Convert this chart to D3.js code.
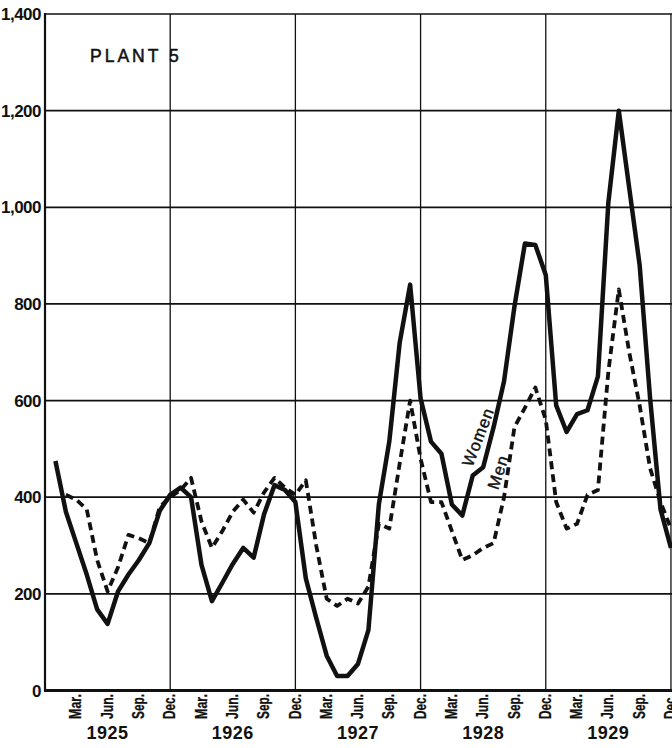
<!DOCTYPE html>
<html>
<head>
<meta charset="utf-8">
<script src="https://cdn.jsdelivr.net/npm/d3@7"></script>
<style>
  html, body { margin: 0; padding: 0; background: #fff; }
  svg { display: block; }
  text { font-family: "Liberation Sans", Arial, sans-serif; fill: #111; }
</style>
</head>
<body>
<svg id="chart" width="672" height="748"></svg>
<script>
// ---- Data (monthly, Jan 1925 .. Dec 1929) ----
const years = ["1925", "1926", "1927", "1928", "1929"];
const monthTickLabels = ["Mar.", "Jun.", "Sep.", "Dec."];
const yTicks = [0, 200, 400, 600, 800, 1000, 1200, 1400];

const women = [
  475, 370, 305, 240, 168, 138, 205, 240, 270, 305, 372, 405,   // 1925
  420, 400, 260, 185, 223, 262, 295, 275, 365, 425, 415, 390,   // 1926
  232, 150, 72, 30, 30, 55, 125, 385, 515, 720, 840, 605,       // 1927
  515, 490, 385, 362, 445, 462, 545, 640, 795, 925, 922, 860,   // 1928
  590, 535, 572, 580, 650, 1010, 1200, 1040, 880, 605, 375, 295 // 1929
];
const men = [
  null, 405, 395, 375, 270, 205, 255, 322, 315, 305, 380, 400,  // 1925
  415, 440, 350, 295, 330, 370, 395, 368, 410, 440, 420, 405,   // 1926
  435, 300, 190, 175, 190, 180, 215, 345, 335, 470, 600, 480,   // 1927
  390, 390, 330, 270, 280, 295, 305, 400, 545, 585, 627, 560,   // 1928
  390, 335, 345, 405, 415, 660, 830, 700, 590, 460, 390, 335    // 1929
];

// ---- Layout ----
const svg = d3.select("#chart");
const W = 672;
const x = d3.scaleLinear().domain([-1, 59.1]).range([45, 672]);
const y = d3.scaleLinear().domain([0, 1400]).range([690.5, 14]);

const g = svg.append("g");

// horizontal gridlines
g.selectAll("line.hgrid").data(yTicks.filter(d => d > 0)).enter().append("line")
  .attr("x1", x(-1)).attr("x2", W)
  .attr("y1", d => y(d)).attr("y2", d => y(d))
  .attr("stroke", "#111").attr("stroke-width", 1.7);

// vertical gridlines at December of each year
const decIdx = years.map((yr, i) => i * 12 + 11);
g.selectAll("line.vgrid").data(decIdx).enter().append("line")
  .attr("x1", d => x(d)).attr("x2", d => x(d))
  .attr("y1", y(1400)).attr("y2", y(0))
  .attr("stroke", "#111").attr("stroke-width", 1.3);

// axes lines
g.append("line").attr("x1", x(-1)).attr("x2", x(-1)).attr("y1", y(1400) - 1).attr("y2", y(0) + 1)
  .attr("stroke", "#111").attr("stroke-width", 2.2);
g.append("line").attr("x1", x(-1) - 1).attr("x2", W).attr("y1", y(0)).attr("y2", y(0))
  .attr("stroke", "#111").attr("stroke-width", 3);

// y tick labels
const fmt = d3.format(",");
g.selectAll("text.ylab").data(yTicks).enter().append("text")
  .attr("x", 41).attr("y", d => y(d)).attr("dy", "0.36em")
  .attr("text-anchor", "end")
  .attr("font-size", 17).attr("font-weight", "bold")
  .attr("letter-spacing", -0.5)
  .text(d => fmt(d));

// month tick labels
const monthTicks = [];
years.forEach((yr, yi) => {
  monthTickLabels.forEach((lab, mi) => {
    monthTicks.push({ idx: yi * 12 + 2 + mi * 3, label: lab });
  });
});
g.selectAll("text.mlab").data(monthTicks).enter().append("text")
  .attr("transform", d => `translate(${x(d.idx) - 1},694) rotate(-90)`)
  .attr("dy", "0.36em")
  .attr("text-anchor", "end")
  .attr("font-size", 17).attr("font-weight", "bold")
  .attr("textLength", 25).attr("lengthAdjust", "spacingAndGlyphs")
  .attr("stroke", "#111").attr("stroke-width", 0.3)
  .text(d => d.label);

// year labels centered at June
g.selectAll("text.year").data(years).enter().append("text")
  .attr("x", (d, i) => x(i * 12 + 5)).attr("y", 739)
  .attr("text-anchor", "middle")
  .attr("font-size", 18).attr("font-weight", "bold")
  .attr("letter-spacing", 0.5)
  .text(d => d);

// title
g.append("text").attr("x", 90).attr("y", 62)
  .attr("font-size", 17.5).attr("letter-spacing", 3)
  .attr("stroke", "#111").attr("stroke-width", 0.5)
  .text("PLANT 5");

// lines
const line = d3.line()
  .defined(d => d != null)
  .x((d, i) => x(i))
  .y(d => y(d));

g.append("path").datum(men)
  .attr("d", line)
  .attr("fill", "none").attr("stroke", "#111")
  .attr("stroke-width", 3.8)
  .attr("stroke-dasharray", "8,5")
  .attr("stroke-linejoin", "round");

g.append("path").datum(women)
  .attr("d", line)
  .attr("fill", "none").attr("stroke", "#111")
  .attr("stroke-width", 4.5)
  .attr("stroke-linejoin", "round");

// series labels
g.append("text")
  .attr("transform", "translate(478,437) rotate(-69)")
  .attr("text-anchor", "middle").attr("dy", "0.35em")
  .attr("font-size", 16.5).attr("letter-spacing", 1)
  .attr("stroke", "#111").attr("stroke-width", 0.4)
  .text("Women");
g.append("text")
  .attr("transform", "translate(498,472) rotate(-72)")
  .attr("text-anchor", "middle").attr("dy", "0.35em")
  .attr("font-size", 16.5).attr("letter-spacing", 1)
  .attr("stroke", "#111").attr("stroke-width", 0.4)
  .text("Men");
</script>
</body>
</html>
